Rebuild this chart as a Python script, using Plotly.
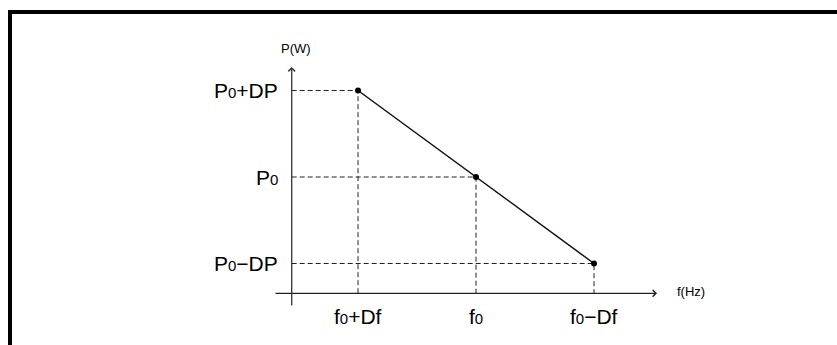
import plotly.graph_objects as go

# Droop characteristic: power set-point versus grid frequency
freq_offset = [1, 0, -1]          # frequency in multiples of Df around f0
power_offset = [1, 0, -1]         # power in multiples of DP around P0
SUB0 = '<span style="font-size:15px">0</span>'
freq_labels = ["f" + SUB0 + "+Df", "f" + SUB0, "f" + SUB0 + "\u2212Df"]
power_labels = ["P" + SUB0 + "+DP", "P" + SUB0, "P" + SUB0 + "\u2212DP"]

# Axis geometry (same units as the offsets)
origin_x, origin_y = 1.562, -1.345
y_axis_bottom, y_axis_top = -1.503, 1.272
x_axis_left, x_axis_right = 1.712, -1.534

FONT = "Liberation Sans, Arial, sans-serif"
fig = go.Figure()

# Dashed guides from each point to the axes
for fx, py in zip(freq_offset, power_offset):
    fig.add_trace(go.Scatter(
        x=[origin_x, fx, fx], y=[py, py, origin_y], mode="lines",
        line=dict(color="#222222", width=1, dash="5px,3px"),
        hoverinfo="skip", showlegend=False))

# Droop line with its three operating points
fig.add_trace(go.Scatter(
    x=freq_offset, y=power_offset, mode="lines+markers",
    line=dict(color="#111111", width=1.5),
    marker=dict(color="#000000", size=6),
    showlegend=False))

annotations = []
# Axes drawn as arrows
annotations.append(dict(x=origin_x, y=y_axis_top, ax=origin_x, ay=y_axis_bottom,
                        xref="x", yref="y", axref="x", ayref="y", text="",
                        showarrow=True, arrowhead=4, arrowsize=1, arrowwidth=1.3,
                        arrowcolor="#333333", standoff=0, startstandoff=0))
annotations.append(dict(x=x_axis_right, y=origin_y, ax=x_axis_left, ay=origin_y,
                        xref="x", yref="y", axref="x", ayref="y", text="",
                        showarrow=True, arrowhead=4, arrowsize=1, arrowwidth=1.3,
                        arrowcolor="#222222", standoff=0, startstandoff=0))

# Tick labels
for fx, lab in zip(freq_offset, freq_labels):
    annotations.append(dict(x=fx, y=-1.607, xref="x", yref="y", text=lab,
                            showarrow=False, xanchor="center", yanchor="middle",
                            font=dict(family=FONT, size=21, color="#000000")))
for py, lab in zip(power_offset, power_labels):
    annotations.append(dict(x=1.66, y=py, xref="x", yref="y", text=lab,
                            showarrow=False, xanchor="right", yanchor="middle",
                            font=dict(family=FONT, size=21, color="#000000")))

# Axis titles
annotations.append(dict(x=1.525, y=1.491, xref="x", yref="y", text="P(W)",
                        showarrow=False, xanchor="center", yanchor="middle",
                        font=dict(family=FONT, size=13, color="#000000")))
annotations.append(dict(x=-1.822, y=-1.329, xref="x", yref="y", text="f(Hz)",
                        showarrow=False, xanchor="center", yanchor="middle",
                        font=dict(family=FONT, size=13, color="#000000")))

# Frame edges (top and left)
shapes = [
    dict(type="line", xref="paper", yref="paper", x0=8 / 837, x1=1,
         y0=1 - 12 / 345, y1=1 - 12 / 345, line=dict(color="#000000", width=4)),
    dict(type="line", xref="paper", yref="paper", x0=10 / 837, x1=10 / 837,
         y0=0, y1=1 - 10 / 345, line=dict(color="#000000", width=4)),
]

fig.update_layout(
    width=837, height=345,
    margin=dict(l=0, r=0, t=0, b=0, pad=0),
    paper_bgcolor="white", plot_bgcolor="white",
    xaxis=dict(range=[4.034, -3.059], visible=False, fixedrange=True),
    yaxis=dict(range=[-1.942, 2.046], visible=False, fixedrange=True),
    annotations=annotations, shapes=shapes,
    showlegend=False,
)

fig.write_html("out.html")
